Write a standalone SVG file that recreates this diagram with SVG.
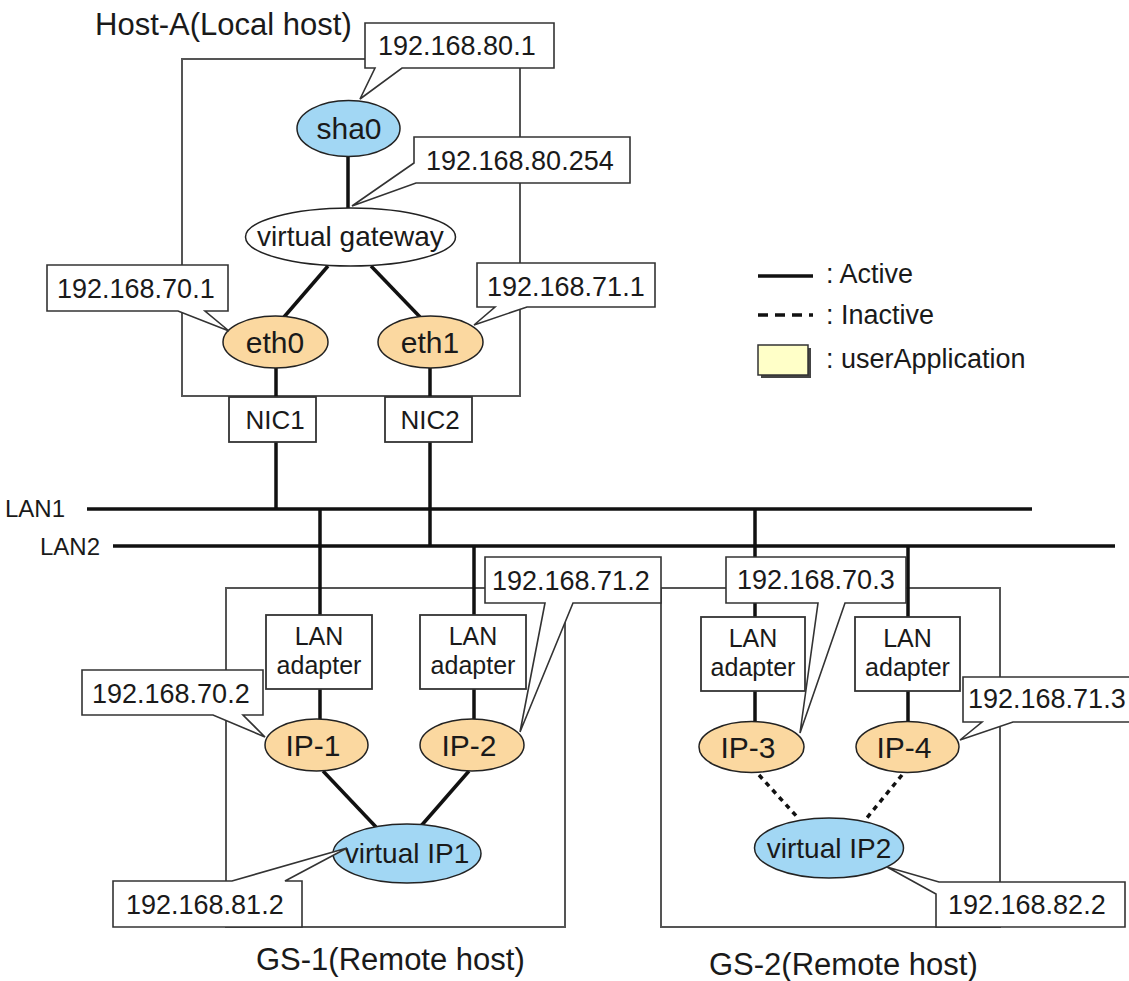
<svg xmlns="http://www.w3.org/2000/svg" width="1129" height="981" viewBox="0 0 1129 981">
<style>
text{font-family:"Liberation Sans",Arial,Helvetica,sans-serif;fill:#1a1a1a}
.host{fill:none;stroke:#555;stroke-width:2}
.co{fill:#fff;stroke:#333;stroke-width:1.6;stroke-linejoin:miter}
.box{fill:#fff;stroke:#333;stroke-width:1.8}
.blue{fill:#a2d7f4;stroke:#222;stroke-width:1.5}
.org{fill:#fbd8a0;stroke:#222;stroke-width:1.5}
.wht{fill:#fff;stroke:#222;stroke-width:1.5}
.act{stroke:#111;stroke-width:3.5;fill:none}
.ina{stroke:#111;stroke-width:3.5;fill:none;stroke-dasharray:5 5}
.ct{font-size:27px}
.nt{font-size:28px}
.ns{font-size:30px}
.lt{font-size:26px}
.at{font-size:25px}
.gt{font-size:27px}
.ht{font-size:31px}
</style>

<!-- host frames -->
<g id="host-a">
  <rect class="host" x="182" y="59" width="338" height="337"/>
  <text class="ht" x="95" y="35">Host-A(Local host)</text>
</g>
<g id="gs-1">
  <rect class="host" x="226" y="588" width="339" height="339"/>
  <text class="ht" x="256" y="970">GS-1(Remote host)</text>
</g>
<g id="gs-2">
  <rect class="host" x="661" y="588" width="339" height="339"/>
  <text class="ht" x="709" y="975">GS-2(Remote host)</text>
</g>

<!-- connectors -->
<g id="connectors">
  <line class="act" x1="87" y1="509" x2="1032" y2="509"/>
  <line class="act" x1="113" y1="546" x2="1115" y2="546"/>
  <line class="act" x1="348" y1="157" x2="348" y2="208"/>
  <line class="act" x1="328" y1="266" x2="284" y2="317"/>
  <line class="act" x1="371" y1="266" x2="420" y2="317"/>
  <line class="act" x1="276" y1="368" x2="276" y2="397"/>
  <line class="act" x1="430" y1="368" x2="430" y2="397"/>
  <line class="act" x1="276" y1="442" x2="276" y2="509"/>
  <line class="act" x1="430" y1="442" x2="430" y2="546"/>
  <line class="act" x1="320" y1="509" x2="320" y2="615"/>
  <line class="act" x1="474" y1="546" x2="474" y2="615"/>
  <line class="act" x1="755" y1="509" x2="755" y2="617"/>
  <line class="act" x1="908" y1="546" x2="908" y2="617"/>
  <line class="act" x1="320" y1="689" x2="320" y2="719"/>
  <line class="act" x1="474" y1="689" x2="474" y2="719"/>
  <line class="act" x1="755" y1="691" x2="755" y2="722"/>
  <line class="act" x1="908" y1="691" x2="908" y2="722"/>
  <line class="act" x1="323" y1="771" x2="376" y2="827"/>
  <line class="act" x1="469" y1="771" x2="421" y2="826"/>
  <line class="ina" x1="759" y1="775" x2="799" y2="819"/>
  <line class="ina" x1="902" y1="775" x2="866" y2="819"/>
</g>

<g id="lan-labels">
  <text style="font-size:24px" x="5" y="517">LAN1</text>
  <text style="font-size:24px" x="40" y="555">LAN2</text>
</g>

<!-- nodes -->
<g id="sha0">
  <ellipse class="blue" cx="348.5" cy="128.5" rx="51.5" ry="28"/>
  <text class="ns" x="349" y="139" text-anchor="middle">sha0</text>
</g>
<g id="virtual-gateway">
  <ellipse class="wht" cx="350.5" cy="237" rx="105" ry="29"/>
  <text class="nt" x="350.5" y="246" text-anchor="middle">virtual gateway</text>
</g>
<g id="eth0">
  <ellipse class="org" cx="275.5" cy="342" rx="52.5" ry="26"/>
  <text class="ns" x="275" y="353" text-anchor="middle">eth0</text>
</g>
<g id="eth1">
  <ellipse class="org" cx="430.5" cy="342" rx="52.5" ry="26"/>
  <text class="ns" x="430" y="353" text-anchor="middle">eth1</text>
</g>
<g id="nic1">
  <rect class="box" x="229" y="397" width="87" height="45"/>
  <text class="lt" x="275" y="429" text-anchor="middle">NIC1</text>
</g>
<g id="nic2">
  <rect class="box" x="385" y="397" width="87" height="45"/>
  <text class="lt" x="430" y="429" text-anchor="middle">NIC2</text>
</g>
<g id="lan-adapter-1">
  <rect class="box" x="266" y="615" width="106" height="74"/>
  <text class="at" x="319" y="645" text-anchor="middle">LAN</text>
  <text class="at" x="319" y="674" text-anchor="middle">adapter</text>
</g>
<g id="lan-adapter-2">
  <rect class="box" x="420" y="615" width="106" height="74"/>
  <text class="at" x="473" y="645" text-anchor="middle">LAN</text>
  <text class="at" x="473" y="674" text-anchor="middle">adapter</text>
</g>
<g id="lan-adapter-3">
  <rect class="box" x="701" y="617" width="104" height="74"/>
  <text class="at" x="753" y="647" text-anchor="middle">LAN</text>
  <text class="at" x="753" y="676" text-anchor="middle">adapter</text>
</g>
<g id="lan-adapter-4">
  <rect class="box" x="855" y="617" width="105" height="74"/>
  <text class="at" x="907.5" y="647" text-anchor="middle">LAN</text>
  <text class="at" x="907.5" y="676" text-anchor="middle">adapter</text>
</g>
<g id="ip-1">
  <ellipse class="org" cx="316.5" cy="745" rx="51.5" ry="26"/>
  <text class="ns" x="313" y="756" text-anchor="middle">IP-1</text>
</g>
<g id="ip-2">
  <ellipse class="org" cx="472" cy="745" rx="52" ry="26"/>
  <text class="ns" x="469" y="756" text-anchor="middle">IP-2</text>
</g>
<g id="ip-3">
  <ellipse class="org" cx="751.5" cy="747" rx="52.5" ry="25.5"/>
  <text class="ns" x="748" y="758" text-anchor="middle">IP-3</text>
</g>
<g id="ip-4">
  <ellipse class="org" cx="907.5" cy="747" rx="51.5" ry="25.5"/>
  <text class="ns" x="904" y="758" text-anchor="middle">IP-4</text>
</g>
<g id="virtual-ip1">
  <ellipse class="blue" cx="407" cy="853.5" rx="74" ry="29.5"/>
  <text class="nt" x="407" y="863" text-anchor="middle">virtual IP1</text>
</g>
<g id="virtual-ip2">
  <ellipse class="blue" cx="829" cy="848" rx="74.5" ry="30"/>
  <text class="nt" x="829" y="858" text-anchor="middle">virtual IP2</text>
</g>

<!-- address callouts -->
<g id="callout-80-1">
  <path class="co" d="M365,23 H554 V68 H402 L360,99 L375,68 H365 Z"/>
  <text class="ct" x="378" y="55">192.168.80.1</text>
</g>
<g id="callout-80-254">
  <path class="co" d="M414,137 H630 V183 H416 L352,206 L414,163 Z"/>
  <text class="ct" x="426" y="170">192.168.80.254</text>
</g>
<g id="callout-70-1">
  <path class="co" d="M47,265 H228 V311 H205 L229,331 L178,311 H47 Z"/>
  <text class="ct" x="57" y="298">192.168.70.1</text>
</g>
<g id="callout-71-1">
  <path class="co" d="M477,263 H655 V307 H527 L474,325 L495,307 H477 Z"/>
  <text class="ct" x="487" y="296">192.168.71.1</text>
</g>
<g id="callout-71-2">
  <path class="co" d="M485,557 H661 V603 H573 L520,732 L545,603 H485 Z"/>
  <text class="ct" x="492" y="590">192.168.71.2</text>
</g>
<g id="callout-70-3">
  <path class="co" d="M726,557 H906 V603 H845 L800,733 L818,603 H726 Z"/>
  <text class="ct" x="737" y="589">192.168.70.3</text>
</g>
<g id="callout-70-2">
  <path class="co" d="M82,670 H263 V715 H243 L265,737 L213,715 H82 Z"/>
  <text class="ct" x="92" y="703">192.168.70.2</text>
</g>
<g id="callout-71-3">
  <path class="co" d="M963,677 H1135 V722 H1013 L960,740 L982,722 H963 Z"/>
  <text class="ct" x="968" y="708">192.168.71.3</text>
</g>
<g id="callout-81-2">
  <path class="co" d="M113,881 H232 L347,848 L285,881 H302 V927 H113 Z"/>
  <text class="ct" x="126" y="914">192.168.81.2</text>
</g>
<g id="callout-82-2">
  <path class="co" d="M936,894 L887,867 L939,882 H1125 V927 H936 Z"/>
  <text class="ct" x="948" y="914">192.168.82.2</text>
</g>

<!-- legend -->
<g id="legend">
  <line class="act" x1="758" y1="276" x2="813" y2="276"/>
  <text class="gt" x="826" y="283">: Active</text>
  <line x1="758" y1="315" x2="813" y2="315" stroke="#111" stroke-width="3.5" stroke-dasharray="10 7"/>
  <text class="gt" x="826" y="324">: Inactive</text>
  <rect x="761" y="348" width="50" height="30" fill="#444"/>
  <rect x="758" y="345" width="50" height="30" fill="#ffffc8" stroke="#333" stroke-width="1.5"/>
  <text class="gt" x="826" y="368">: userApplication</text>
</g>
</svg>
